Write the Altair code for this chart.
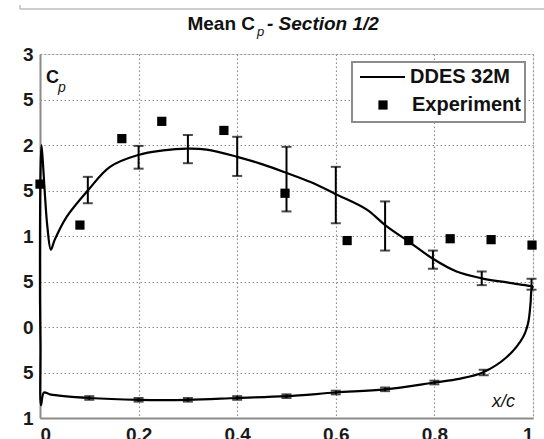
import altair as alt
import pandas as pd

# DDES 32M mean -Cp, upper surface (trailing edge -> leading edge)
upper_x = [1.0, 0.997, 0.947, 0.896, 0.845, 0.797, 0.75, 0.70, 0.663, 0.60, 0.55, 0.497,
           0.45, 0.40, 0.338, 0.298, 0.25, 0.199, 0.142, 0.097, 0.054, 0.03, 0.022,
           0.015, 0.01, 0.006, 0.003, 0.001, 0.0]
upper_y = [0.45, 0.45, 0.49, 0.535, 0.61, 0.75, 0.93, 1.12, 1.29, 1.46, 1.59, 1.70,
           1.79, 1.87, 1.95, 1.96, 1.94, 1.89, 1.76, 1.50, 1.21, 0.96, 0.85,
           1.10, 1.45, 1.80, 2.00, 1.70, 1.00]
# lower surface (leading edge -> trailing edge)
lower_x = [0.0, 0.001, 0.002, 0.008, 0.02, 0.1, 0.2, 0.3, 0.4, 0.5, 0.6, 0.7, 0.8,
           0.85, 0.898, 0.947, 0.98, 0.99, 0.995, 0.997, 1.0]
lower_y = [0.30, -0.20, -0.86, -0.72, -0.74, -0.78, -0.80, -0.80, -0.78, -0.76, -0.72,
           -0.685, -0.61, -0.57, -0.50, -0.33, -0.11, 0.04, 0.26, 0.41, 0.45]

# error bars on the DDES curve
eb_up_x = [0.097, 0.2, 0.3, 0.4, 0.5, 0.6, 0.7, 0.797, 0.896, 0.997]
eb_up_hi = [1.65, 1.99, 2.11, 2.09, 1.98, 1.76, 1.38, 0.84, 0.61, 0.53]
eb_up_lo = [1.36, 1.74, 1.80, 1.66, 1.27, 1.14, 0.84, 0.64, 0.46, 0.41]
eb_lo_x = [0.1, 0.2, 0.3, 0.4, 0.5, 0.6, 0.7, 0.8, 0.9]
eb_lo_hi = [-0.76, -0.78, -0.78, -0.76, -0.74, -0.70, -0.665, -0.59, -0.47]
eb_lo_lo = [-0.80, -0.82, -0.82, -0.80, -0.78, -0.74, -0.705, -0.63, -0.53]

# experiment
exp_x = [0.0, 0.081, 0.166, 0.247, 0.373, 0.497, 0.623, 0.748, 0.832, 0.915, 0.998]
exp_y = [1.57, 1.12, 2.07, 2.26, 2.16, 1.47, 0.95, 0.95, 0.97, 0.96, 0.90]

x_ticks = [0, 0.2, 0.4, 0.6, 0.8, 1]
y_ticks = [-1, -0.5, 0, 0.5, 1, 1.5, 2, 2.5, 3]

line_df = pd.DataFrame({
    "x": upper_x + lower_x,
    "y": upper_y + lower_y,
    "i": list(range(len(upper_x) + len(lower_x))),
})
eb_df = pd.DataFrame({"x": eb_up_x + eb_lo_x, "lo": eb_up_lo + eb_lo_lo, "hi": eb_up_hi + eb_lo_hi})
exp_df = pd.DataFrame({"x": exp_x, "y": exp_y})
one = pd.DataFrame({"a": [0]})

FONT = "Liberation Sans"
GRID = dict(grid=True, gridDash=[1.5, 2.5], gridColor="#8f8f8f", gridWidth=1.2,
            domainColor="#8c8c8c", domainWidth=2, ticks=False,
            labelFont=FONT, labelFontSize=19, labelFontWeight="bold", labelColor="#1a1a1a",
            title=None)

X = alt.X("x:Q", scale=alt.Scale(domain=[0, 1], nice=False),
          axis=alt.Axis(values=x_ticks, format="~g", labelPadding=7, **GRID))
Y = alt.Y("y:Q", scale=alt.Scale(domain=[-1, 3], nice=False),
          axis=alt.Axis(values=y_ticks, format="~g", labelExpr="slice(datum.label, -1)",
                        labelPadding=7, **GRID))

line = alt.Chart(line_df).mark_line(color="black", strokeWidth=2.2, interpolate="catmull-rom").encode(
    x=X, y=Y, order="i:Q")

eb_rule = alt.Chart(eb_df).mark_rule(color="black", strokeWidth=2).encode(
    x="x:Q", y="lo:Q", y2="hi:Q")
eb_top = alt.Chart(eb_df).mark_tick(color="black", orient="horizontal", size=10, thickness=2).encode(
    x="x:Q", y="hi:Q")
eb_bot = alt.Chart(eb_df).mark_tick(color="black", orient="horizontal", size=10, thickness=2).encode(
    x="x:Q", y="lo:Q")

exp = alt.Chart(exp_df).mark_square(color="black", size=85, opacity=1).encode(x="x:Q", y="y:Q")

def txt(s, x, y, size, style="normal", weight="bold", align="left", baseline="alphabetic"):
    return alt.Chart(one).mark_text(text=s, font=FONT, fontSize=size, fontStyle=style,
                                    fontWeight=weight, align=align, baseline=baseline,
                                    color="#111").encode(x=alt.value(x), y=alt.value(y))

title1 = txt("Mean C", 215, -24, 19, align="right")
title2 = txt("p", 217, -18, 13, style="italic", weight="normal")
title3 = txt("- Section 1/2", 227, -24, 19, style="italic")

cp1 = txt("C", 6, 29, 18)
cp2 = txt("p", 18, 38, 14, style="italic", weight="normal")
xc = txt("x/c", 452, 353, 18, style="italic", weight="normal")

legend_box = alt.Chart(one).mark_rect(fill="white", stroke="#8c8c8c", strokeWidth=2).encode(
    x=alt.value(312), x2=alt.value(485), y=alt.value(8), y2=alt.value(68))
legend_line = alt.Chart(one).mark_rule(color="black", strokeWidth=2.2).encode(
    x=alt.value(320), x2=alt.value(365), y=alt.value(23))
legend_sq = alt.Chart(one).mark_square(color="black", size=85, opacity=1).encode(
    x=alt.value(343), y=alt.value(51))
leg_t1 = txt("DDES 32M", 370, 23, 20, baseline="middle")
leg_t2 = txt("Experiment", 372, 51, 20, baseline="middle")

top_rule = alt.Chart(one).mark_rule(color="#bdbdbd", strokeWidth=1.5).encode(
    x=alt.value(-20), x2=alt.value(504), y=alt.value(-45))
top_tick = alt.Chart(one).mark_rule(color="#bdbdbd", strokeWidth=1.5).encode(
    x=alt.value(-20), y=alt.value(-49), y2=alt.value(-45))

chart = alt.layer(
    line, eb_rule, eb_top, eb_bot, exp,
    title1, title2, title3, cp1, cp2, xc,
    legend_box, legend_line, legend_sq, leg_t1, leg_t2,
    top_rule, top_tick,
).properties(
    width=493, height=364,
    autosize=alt.AutoSizeParams(type="none"),
    padding={"left": 40, "top": 54, "right": 11, "bottom": 21},
).configure_view(stroke=None).configure(background="white")

chart.save("out.html", embed_options={"renderer": "svg", "actions": False})
